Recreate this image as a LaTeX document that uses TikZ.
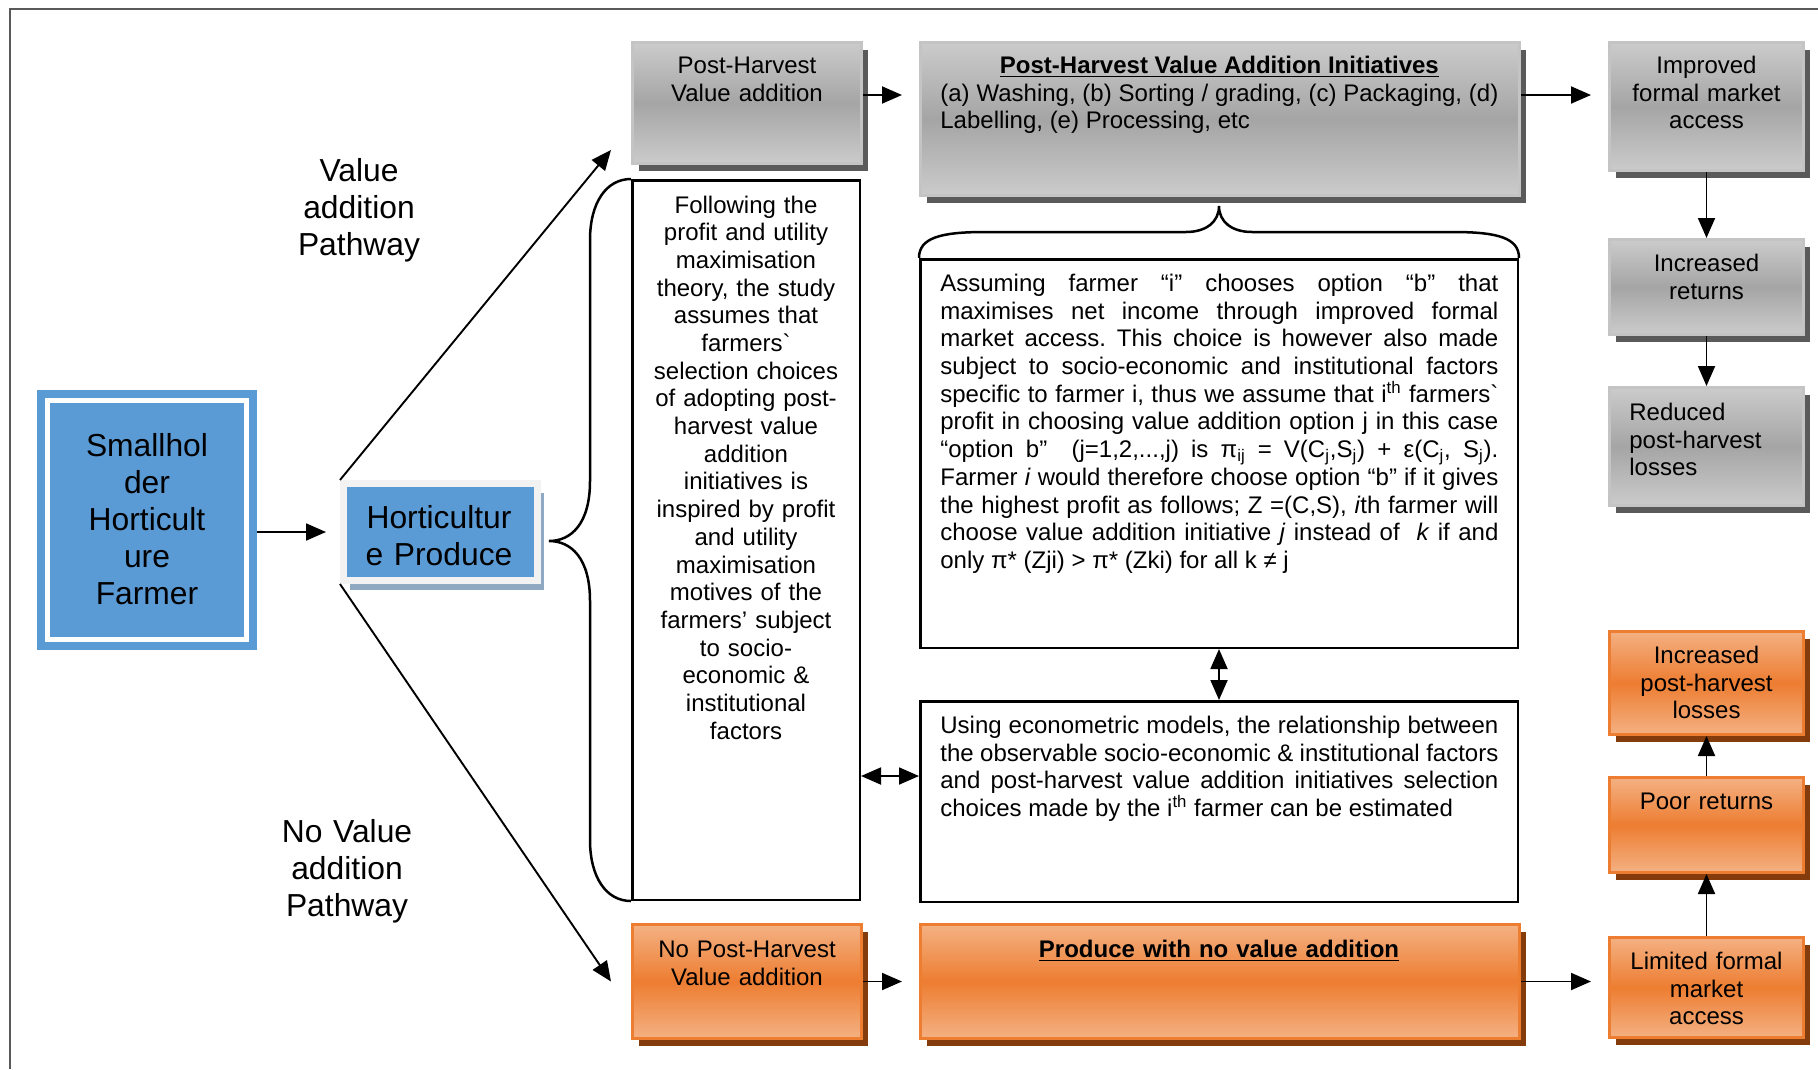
\documentclass[tikz,border=0pt]{standalone}
\usepackage{fontspec}
\setmainfont{Liberation Sans}
\usetikzlibrary{arrows.meta, shadows}

\definecolor{blu}{HTML}{5B9BD5}
\definecolor{hsh}{HTML}{8FA9C3}
\definecolor{hfr}{HTML}{F2F2F2}
\definecolor{gl}{HTML}{CBCBCB}
\definecolor{gm}{HTML}{A5A5A5}
\definecolor{gbd}{HTML}{C4C4C4}
\definecolor{gsh}{HTML}{5A5A5A}
\definecolor{ol}{HTML}{F4B183}
\definecolor{om}{HTML}{ED7D31}
\definecolor{osh}{HTML}{843C0C}
\definecolor{frm}{HTML}{595959}

\newcommand{\fsmain}{\fontsize{13.66pt}{15.76pt}\selectfont}
\newcommand{\fsbig}{\fontsize{18.1pt}{21.05pt}\selectfont}
\newcommand{\undl}[1]{\setbox0\hbox{#1}\rlap{\rule[-2.2pt]{\wd0}{1pt}}\box0}
\tolerance=10000 \pretolerance=10000 \hbadness=10000 \hfuzz=3pt
\frenchspacing

\begin{document}
\begin{tikzpicture}[x=0.2mm, y=-0.2mm]
\tikzset{>={Triangle[length=4mm, width=3.4mm]},
  ln/.style={line width=0.38mm},
  brc/.style={line width=0.5mm},
  box/.style={rectangle, inner sep=0pt},
  gbox/.style={box, draw=gbd, line width=0.6mm, top color=gl, bottom color=gl, middle color=gm,
    drop shadow={shadow xshift=1.3mm, shadow yshift=-1.5mm, fill=gsh, opacity=1}},
  obox/.style={box, draw=om, line width=0.6mm, top color=ol, bottom color=ol, middle color=om,
    drop shadow={shadow xshift=1.35mm, shadow yshift=-1.5mm, fill=osh, opacity=1}},
  wbox/.style={box, draw, line width=0.5mm, fill=white},
  txt/.style={inner sep=0pt, font=\fsmain, align=center, anchor=base},
  jtxt/.style={inner sep=0pt, font=\fsmain, align=justify, anchor=base west, text width=111.6mm},
  big/.style={inner sep=0pt, font=\fsbig, align=center, anchor=base}}

\useasboundingbox (0,0) rectangle (1818,1069);
\draw[frm, line width=0.45mm] (10,1069) -- (10,9) -- (1818,9);

\node[box, fill=blu, minimum width=44mm, minimum height=52mm] (sh) at (147,520) {};
\draw[white, line width=0.9mm] ([shift={(11,11)}]sh.north west) rectangle ([shift={(-11,-11)}]sh.south east);
\node[box, fill=blu, draw=hfr, line width=1.4mm, minimum width=38.8mm, minimum height=19.4mm,
  drop shadow={shadow xshift=1.3mm, shadow yshift=-1.8mm, fill=hsh, opacity=1}] (hp) at (440.5,532) {};

\node[gbox, minimum width=45.8mm, minimum height=24.2mm] (ph) at (747,103) {};
\node[gbox, minimum width=119.8mm, minimum height=30.6mm] (pv) at (1220,119) {};
\node[gbox, minimum width=38.8mm, minimum height=25.6mm] (imp) at (1706.5,106.5) {};
\node[gbox, minimum width=38.8mm, minimum height=19mm] (inc) at (1706.5,287) {};
\node[gbox, minimum width=38.8mm, minimum height=23.6mm] (red) at (1706.5,446.5) {};
\node[obox, minimum width=45.8mm, minimum height=22.8mm] (nph) at (747,981.5) {};
\node[obox, minimum width=119.8mm, minimum height=22.8mm] (pro) at (1220,981.5) {};
\node[obox, minimum width=38.8mm, minimum height=20.6mm] (iphl) at (1706.5,683) {};
\node[obox, minimum width=38.8mm, minimum height=19mm] (poor) at (1706.5,825) {};
\node[obox, minimum width=38.8mm, minimum height=20mm] (lim) at (1706.5,987.5) {};
\node[wbox, minimum width=45.5mm, minimum height=143.9mm] (fol) at (746,540) {};
\node[wbox, minimum width=119.5mm, minimum height=77.7mm] (ass) at (1219,453.5) {};
\node[wbox, minimum width=119.5mm, minimum height=40.1mm] (use) at (1219,801.5) {};

\draw[brc] (fol.north west) .. controls (606,179) and (590,203) .. (590,240) -- (590,481)
  .. controls (590,524) and (571,541) .. (549,541) .. controls (571,541) and (590,558) .. (590,601)
  -- (590,840) .. controls (590,877) and (606,901) .. (fol.south west);
\draw[brc] (ass.north west) .. controls (919,238) and (940,232) .. (985,232) -- (1186,232)
  .. controls (1206,232) and (1219,222) .. (1219,206) .. controls (1219,222) and (1232,232) .. (1252,232)
  -- (1453,232) .. controls (1498,232) and (1519,238) .. (ass.north east);

\coordinate (r1) at ([yshift=1.6mm]ph.east);
\coordinate (r2) at ([yshift=5.1mm]use.west);
\draw[ln, ->, shorten >=2.8mm] (sh.east |- hp.west) -- (hp.west);
\draw[ln, ->] (hp.north west) -- ([shift={(-20,-15)}]ph.south west);
\draw[ln, ->] (hp.south west) -- ([xshift=-4mm]nph.west);
\draw[ln, ->, shorten >=3.4mm] (r1) -- (r1 -| pv.west);
\draw[ln, ->, shorten >=3.4mm] (r1 -| pv.east) -- (r1 -| imp.west);
\draw[ln, ->, shorten >=3.4mm] (nph.east) -- (nph.east -| pro.west);
\draw[ln, ->, shorten >=3.4mm] (pro.east) -- (pro.east -| lim.west);
\draw[ln, ->] (imp) -- (inc);
\draw[ln, ->] (inc) -- (red);
\draw[ln, ->] (lim) -- (poor);
\draw[ln, ->] (poor) -- (iphl);
\draw[ln, <->] (ass) -- (use);
\draw[ln, <->] (r2 -| fol.east) -- (r2);

\node[big, text width=42mm] (shT) at (147,456.4) {Smallhol\\der\\Horticult\\ure\\Farmer};
\node[big, text width=38mm] (hpT) at (439,528.4) {Horticultur\\e Produce};
\node[big, text width=30mm] (vaT) at (359,181.4) {Value\\addition\\Pathway};
\node[big, text width=30mm] (nvaT) at (347,842.4) {No Value\\addition\\Pathway};

\node[txt, text width=44mm] (phT) at (747,73.5) {Post-Harvest\\Value addition};
\node[jtxt] (pvT) at (940,73.5) {\makebox[\linewidth]{\textbf{\undl{Post-Harvest Value Addition Initiatives}}}\par
  (a) Washing, (b) Sorting / grading, (c) Packaging, (d)\linebreak
  Labelling, (e) Processing, etc};
\node[txt, text width=40mm] (impT) at (1706.5,73.5) {Improved\\formal market\\access};
\node[txt, text width=40mm] (incT) at (1706.5,271.5) {Increased\\returns};
\node[txt, text width=36mm, align=left, anchor=base west] (redT) at (1629,420.5) {Reduced\\post-harvest\\losses};
\node[txt, text width=43.2mm] (folT) at (746,213) {Following the\\profit and utility\\maximisation\\theory, the study\\assumes that\\farmers\textasciigrave\\selection choices\\of adopting post-\\harvest value\\addition\\initiatives is\\inspired by profit\\and utility\\maximisation\\motives of the\\farmers’ subject\\to socio-\\economic \&\\institutional\\factors};
\node[jtxt] (assT) at (940,291.5) {Assuming farmer “i” chooses option “b” that\linebreak
  maximises net income through improved formal\linebreak
  market access. This choice is however also made\linebreak
  subject to socio-economic and institutional factors\linebreak
  specific to farmer i, thus we assume that i\textsuperscript{th} farmers\textasciigrave\linebreak
  profit in choosing value addition option j in this case\linebreak
  “option b”\ \ (j=1,2,...,j) is π\textsubscript{ij} = V(C\textsubscript{j},S\textsubscript{j}) + ε(C\textsubscript{j}, S\textsubscript{j}).\linebreak
  Farmer \textit{i} would therefore choose option “b” if it gives\linebreak
  the highest profit as follows; Z =(C,S), \textit{i}th farmer will\linebreak
  choose value addition initiative \textit{j} instead of\ \ \textit{k} if and\linebreak
  only π* (Zji) > π* (Zki) for all k ≠ j};
\node[jtxt] (useT) at (940,733.5) {Using econometric models, the relationship between\linebreak
  the observable socio-economic \& institutional factors\linebreak
  and post-harvest value addition initiatives selection\linebreak
  choices made by the i\textsuperscript{th} farmer can be estimated};
\node[txt, text width=44mm] (nphT) at (747,957.5) {No Post-Harvest\\Value addition};
\node[txt, text width=110mm] (proT) at (1219,957.5) {\textbf{\undl{Produce with no value addition}}};
\node[txt, text width=40mm] (iphlT) at (1706.5,663.5) {Increased\\post-harvest\\losses};
\node[txt, text width=40mm] (poorT) at (1706.5,809.5) {Poor returns};
\node[txt, text width=40mm] (limT) at (1706.5,969.5) {Limited formal\\market\\access};
\end{tikzpicture}
\end{document}
